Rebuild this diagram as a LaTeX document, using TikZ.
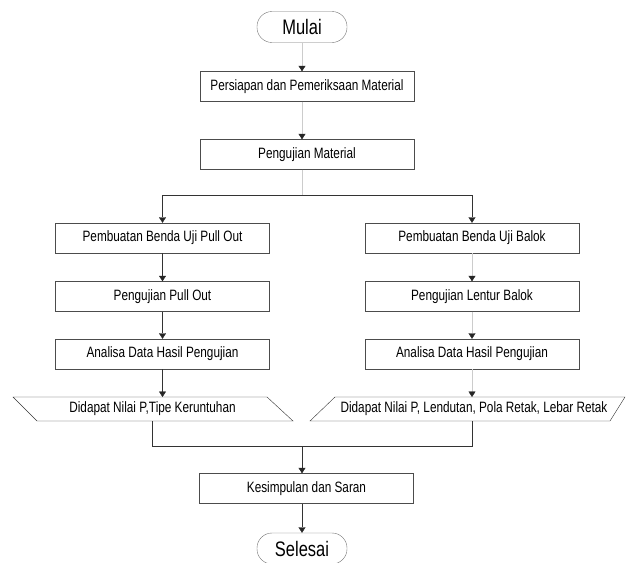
\documentclass[tikz,border=0pt]{standalone}
\usepackage{fontspec}
\setmainfont{Liberation Sans}[FakeStretch=0.785]
\usepackage{tikz}
\usetikzlibrary{arrows.meta,calc,positioning}

\begin{document}
\begin{tikzpicture}[x=1pt,y=-1pt,
    proses/.style={draw=black!70, thin, minimum width=214pt, minimum height=30pt, inner sep=0pt, font=\fontsize{15}{17}\selectfont},
    terminal/.style={draw=black!55, thin, rounded corners=15pt, minimum width=90pt, minimum height=31pt, inner sep=0pt, font=\fontsize{21}{23}\selectfont},
    teks/.style={inner sep=0pt, font=\fontsize{15}{17}\selectfont},
    garis/.style={draw=black!80, thin},
    samar/.style={draw=black!20, thin},
    panah/.style={-{Triangle[width=7pt,length=5.5pt,color=black!85]}}]
      \useasboundingbox (0,0) rectangle (626,562);
      % start
      \node[terminal] (mulai) at (302,27) {Mulai};
      \node[proses] (persiapan) at (307,86.5) {Persiapan dan Pemeriksaan Material};
      \node[proses] (material) at (307,154.5) {Pengujian Material};
      % left column
      \node[proses] (buatA) at (162.5,238) {Pembuatan Benda Uji Pull Out};
      \node[proses] (ujiA) at (162.5,296.5) {Pengujian Pull Out};
      \node[proses] (analisaA) at (162.5,354) {Analisa Data Hasil Pengujian};
      % right column
      \node[proses] (buatB) at (472,238) {Pembuatan Benda Uji Balok};
      \node[proses] (ujiB) at (472,296.5) {Pengujian Lentur Balok};
      \node[proses] (analisaB) at (472,354) {Analisa Data Hasil Pengujian};
      % data
      \node[teks] (hasilA) at (152.5,409) {Didapat Nilai P,Tipe Keruntuhan};
      \draw[garis] (13,397) -- (267,397) -- (293,421) -- (37,421) -- cycle;
      \node[teks] (hasilB) at (474,409) {Didapat Nilai P, Lendutan, Pola Retak, Lebar Retak};
      \draw[garis] (335,397) -- (625,397) -- (610,421) -- (310,421) -- cycle;
      % end
      \node[proses] (kesimpulan) at (306.5,488.5) {Kesimpulan dan Saran};
      \node[terminal] (selesai) at (302,548.5) {Selesai};
      % connectors
      \coordinate (split) at (302,195);
      \coordinate (gabung) at (302,446);
      \draw[samar,panah] (mulai) -- (mulai.south |- persiapan.north);
      \draw[samar,panah] (mulai.south |- persiapan.south) -- (mulai.south |- material.north);
      \draw[samar] (mulai.south |- material.south) -- (split);
      \draw[garis,panah] (split) -| (buatA.north);
      \draw[garis,panah] (split) -| (buatB.north);
      \draw[garis,panah] (buatA) -- (ujiA);
      \draw[garis,panah] (ujiA) -- (analisaA);
      \draw[garis,panah] (analisaA.south) -- (analisaA.south |- 0,397);
      \draw[samar,panah] (buatB) -- (ujiB);
      \draw[samar,panah] (ujiB) -- (analisaB);
      \draw[samar,panah] (analisaB.south) -- (analisaB.south |- 0,397);
      \draw[garis] (152.5,421) |- (gabung);
      \draw[garis] (472,421) |- (gabung);
      \draw[garis,panah] (gabung) -- (gabung |- kesimpulan.north);
      \draw[garis,panah] (gabung |- kesimpulan.south) -- (selesai);
\end{tikzpicture}
\end{document}
